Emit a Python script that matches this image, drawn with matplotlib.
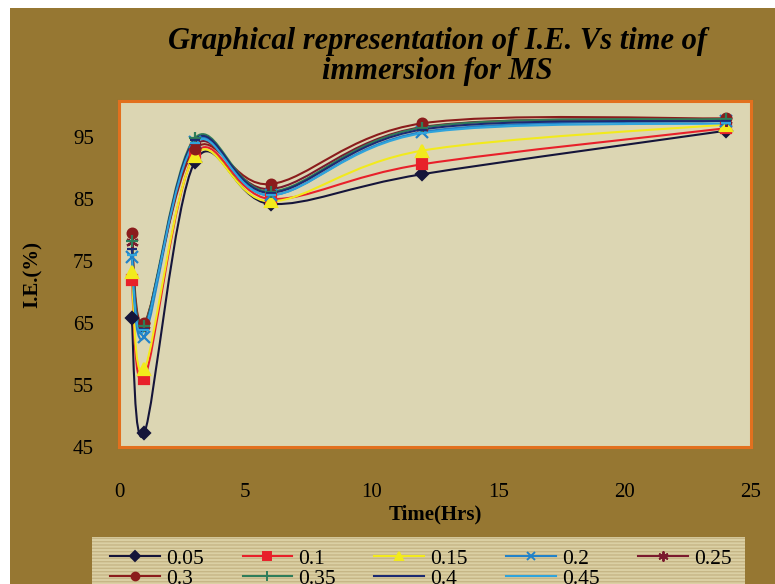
import matplotlib.pyplot as plt
from matplotlib.path import Path
from matplotlib.patches import PathPatch, Rectangle
from matplotlib.lines import Line2D

# immersion time (hrs) and inhibition efficiency (%) per concentration
time = [0.5, 1, 3, 6, 12, 24]
conc = ['0.05', '0.1', '0.15', '0.2', '0.25', '0.3', '0.35', '0.4', '0.45']
ie_005 = [65.8, 47.2, 91.0, 84.2, 89.0, 96.0]
ie_01 = [72.0, 56.0, 92.2, 85.0, 90.6, 96.4]
ie_015 = [73.2, 57.5, 92.0, 84.6, 92.8, 97.0]
ie_02 = [75.6, 62.8, 94.2, 85.6, 95.8, 97.6]
ie_025 = [78.0, 64.6, 93.6, 86.6, 96.6, 97.8]
ie_03 = [79.5, 65.0, 93.0, 87.4, 97.2, 98.0]
ie_035 = [78.2, 64.5, 94.8, 86.2, 96.5, 97.9]
ie_04 = [77.0, 64.0, 94.5, 86.0, 96.2, 97.6]
ie_045 = [76.0, 63.8, 94.0, 85.6, 95.6, 97.2]
series = [ie_005, ie_01, ie_015, ie_02, ie_025, ie_03, ie_035, ie_04, ie_045]

colors = ['#15153a', '#e8202a', '#f2ea1c', '#2282c8', '#7a1a2e',
          '#8b1c1c', '#2e7d5a', '#1c2a72', '#30a4dc']
markers = ['D', 's', '^', 'x', (6, 2, 0), 'o', '+', '_', '_']
msizes = [6, 7, 8, 8, 9, 7, 9, 7, 7]


def smooth_path(xs, ys):
    # Catmull-Rom spline through the points, as cubic bezier segments
    pts = list(zip(xs, ys))
    n = len(pts)
    verts = [pts[0]]
    codes = [Path.MOVETO]
    for i in range(n - 1):
        p0 = pts[i - 1] if i > 0 else pts[i]
        p1 = pts[i]
        p2 = pts[i + 1]
        p3 = pts[i + 2] if i + 2 < n else pts[i + 1]
        c1 = (p1[0] + (p2[0] - p0[0]) / 6, p1[1] + (p2[1] - p0[1]) / 6)
        c2 = (p2[0] - (p3[0] - p1[0]) / 6, p2[1] - (p3[1] - p1[1]) / 6)
        verts += [c1, c2, p2]
        codes += [Path.CURVE4] * 3
    return Path(verts, codes)


fig = plt.figure(figsize=(7.75, 5.84), dpi=100)
fig.patch.set_facecolor('white')
fig.add_artist(Rectangle((10 / 775, 0), 1, 1 - 8 / 584, transform=fig.transFigure,
                         facecolor='#967732', edgecolor='none', zorder=0))

ax = fig.add_axes([119 / 775, 1 - 447 / 584, 632 / 775, 346 / 584])
ax.set_facecolor('#dcd6b3')
for sp in ax.spines.values():
    sp.set_color('#e2701e')
    sp.set_linewidth(2.2)

handles = []
for vals, c, m, ms, lab in zip(series, colors, markers, msizes, conc):
    ax.add_patch(PathPatch(smooth_path(time, vals), facecolor='none',
                           edgecolor=c, lw=1.5, zorder=2))
    ax.plot(time, vals, ls='none', marker=m, color=c, ms=ms, mew=1.6, zorder=3)
    handles.append(Line2D([], [], color=c, lw=1.5, marker=m, ms=ms * 0.8,
                          mew=1.4, label=lab))

ax.set_xlim(0, 25)
ax.set_ylim(45, 100.8)
ax.set_xticks([0, 5, 10, 15, 20, 25])
ax.set_yticks([45, 55, 65, 75, 85, 95])
ax.tick_params(axis='both', length=0, labelsize=15, colors='black')
ax.tick_params(axis='x', pad=26)
ax.tick_params(axis='y', pad=18)
for t in ax.get_xticklabels() + ax.get_yticklabels():
    t.set_fontfamily('Liberation Serif')

ax.set_xlabel('Time(Hrs)', fontfamily='Liberation Serif', fontweight='bold',
              fontsize=15, labelpad=2)
ax.set_ylabel('I.E.(%)', fontfamily='Liberation Serif', fontweight='bold',
              fontsize=15, labelpad=22)

fig.text(437 / 775, 1 - 41 / 584, 'Graphical representation of I.E. Vs time of',
         ha='center', va='center', fontfamily='Liberation Serif',
         fontstyle='italic', fontweight='bold', fontsize=22)
fig.text(437 / 775, 1 - 72 / 584, 'immersion for MS',
         ha='center', va='center', fontfamily='Liberation Serif',
         fontstyle='italic', fontweight='bold', fontsize=22)

# striped legend panel, drawn separately so the legend itself can sit freely
fig.add_artist(Rectangle((92 / 775, 0), 653 / 775, 1 - 537 / 584,
                         transform=fig.transFigure, facecolor='#dbd0a4',
                         edgecolor='#c6b686', linewidth=0, hatch='-----', zorder=1))

# legend fills column by column, so interleave to get rows of five
order = [0, 5, 1, 6, 2, 7, 3, 8, 4]
leg = fig.legend(handles=[handles[i] for i in order], ncol=5, loc='upper left',
                 bbox_to_anchor=(104 / 775, 1 - 542 / 584),
                 prop={'family': 'Liberation Serif', 'size': 15.5},
                 frameon=False, borderpad=0.3,
                 handlelength=2.3, handletextpad=0.28, columnspacing=1.8,
                 labelspacing=0.0, borderaxespad=0)
leg.set_zorder(2)

fig.savefig('out.png', dpi=100, facecolor=fig.get_facecolor())
